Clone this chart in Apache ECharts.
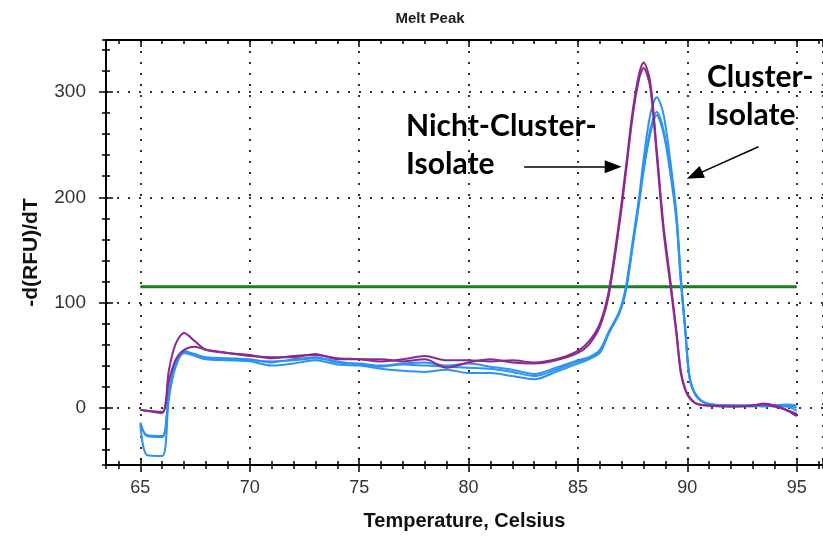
<!DOCTYPE html>
<html>
<head>
<meta charset="utf-8">
<script src="https://cdn.jsdelivr.net/npm/echarts@6/dist/echarts.min.js"></script>
<style>
html,body{margin:0;padding:0;background:#fff;}
#chart{width:823px;height:536px;}
</style>
</head>
<body>
<div id="chart"></div>
<script>
// Temperatures (°C) at which the curves are sampled
const temps = [65, 65.3, 66, 66.3, 66.6, 67, 67.5, 68, 69, 70, 71, 72, 73, 74, 75, 76, 77, 78, 79, 80, 81, 82, 83, 84, 85, 85.5, 86, 86.4, 86.9, 87.2, 87.5, 87.8, 88.0, 88.3, 88.6, 88.9, 89.2, 89.5, 89.7, 89.9, 90.1, 90.4, 90.9, 92, 93, 93.5, 94, 94.5, 95];

// Nicht-Cluster-Isolate (purple)
const nichtCluster1 = [-2, -3, -5, 35, 60, 71, 63, 55, 52, 50, 47, 49, 50, 47, 46, 44, 46, 49, 45, 45, 44, 45, 43, 46, 54, 63, 80, 110, 180, 230, 282, 318, 328, 310, 245, 175, 125, 73, 35, 18, 10, 4, 2, 1, 2, 4, 2, -2, -8];
const nichtCluster2 = [-2, -3, -4, 25, 45, 55, 58, 55, 52, 49, 48, 48, 51, 46, 46, 46, 44, 46, 38, 43, 46, 43, 42, 45, 52, 60, 77, 106, 175, 225, 277, 313, 323, 305, 240, 170, 120, 70, 33, 17, 9, 4, 2, 1, 2, 3, 1, -2, -6];

// Cluster-Isolate (blue)
const cluster1 = [-14, -27, -28, 15, 42, 54, 50, 48, 47, 46, 43, 46, 48, 43, 42, 40, 42, 43, 40, 42, 39, 36, 32, 38, 45, 48, 55, 72, 92, 116, 158, 201, 236, 278, 295, 280, 238, 185, 125, 77, 30, 12, 4, 2, 2, 1, 2, 2, 0];
const cluster2 = [-16, -45, -46, 8, 38, 52, 49, 46, 45, 44, 40, 42, 45, 41, 40, 37, 35, 34, 36, 33, 33, 30, 27, 34, 42, 46, 52, 70, 90, 112, 153, 195, 225, 260, 278, 262, 226, 178, 120, 74, 28, 11, 4, 2, 2, 2, 1, 1, -3];
const cluster3 = [-15, -26, -27, 12, 40, 53, 51, 47, 46, 45, 44, 45, 47, 44, 41, 39, 41, 40, 39, 38, 37, 34, 30, 36, 44, 47, 54, 71, 91, 113, 155, 197, 228, 264, 281, 265, 229, 180, 122, 75, 29, 12, 4, 2, 1, 2, 2, 3, 2];

// Threshold line
const thresholdTemps = [65, 95];
const thresholdValue = 115;

// Annotation arrows (data coordinates)
const arrowNicht = [[82.54, 229], [86.61, 229]];
const arrowCluster = [[93.25, 248], [90.33, 220.8]];

const xMin = 63.43, xMax = 96.2;
const yMin = -54.5, yMax = 349.5;

const PURPLE = '#8b2a8e';
const BLUE = '#2b93f2';
const GREEN = '#1b7d1b';

function pairs(xs, ys) { return xs.map((x, i) => [x, ys[i]]); }

const dotted = { show: true, lineStyle: { color: '#333', width: 2, type: [2, 9] } };

function xAx(opts) {
  return Object.assign({
    type: 'value', min: xMin, max: xMax, position: 'bottom',
    axisLine: { show: false, onZero: false }, axisLabel: { show: false }, splitLine: { show: false },
    axisTick: { show: false }
  }, opts);
}
function yAx(opts) {
  return Object.assign({
    type: 'value', min: yMin, max: yMax, position: 'left',
    axisLine: { show: false, onZero: false }, axisLabel: { show: false }, splitLine: { show: false },
    axisTick: { show: false }
  }, opts);
}

const tickStyle = { color: '#000', width: 1.5 };

const option = {
  animation: false,
  backgroundColor: '#fff',
  title: {
    text: 'Melt Peak', left: 425, top: 6, textAlign: 'center',
    textStyle: { fontFamily: 'Liberation Sans', fontWeight: 'bold', fontSize: 15, color: '#222' }
  },
  grid: { left: 106, top: 40, right: 0, bottom: 70 },
  xAxis: [
    xAx({
      splitNumber: 6,
      axisLine: { show: true, onZero: false, lineStyle: { color: '#000', width: 2 } },
      axisTick: { show: true, length: 7, lineStyle: tickStyle },
      axisLabel: { show: true, fontSize: 18, color: '#333', margin: 14, fontFamily: 'Liberation Sans', showMinLabel: false, showMaxLabel: false },
      splitLine: dotted,
      name: 'Temperature, Celsius', nameLocation: 'middle', nameGap: 46,
      nameTextStyle: { fontFamily: 'Liberation Sans', fontWeight: 'bold', fontSize: 20, color: '#111' }
    }),
    xAx({ splitNumber: 6, axisTick: { show: true, inside: true, length: 7, lineStyle: tickStyle } }),
    xAx({ splitNumber: 33, axisTick: { show: true, length: 4, lineStyle: tickStyle } }),
    xAx({ splitNumber: 33, axisTick: { show: true, inside: true, length: 4, lineStyle: tickStyle } }),
    xAx({ position: 'top', splitNumber: 33,
      axisLine: { show: true, onZero: false, lineStyle: { color: '#000', width: 2 } },
      axisTick: { show: true, inside: true, length: 4, lineStyle: tickStyle } }),
    xAx({ position: 'top', splitNumber: 6, axisTick: { show: true, inside: true, length: 7, lineStyle: tickStyle } })
  ],
  yAxis: [
    yAx({
      splitNumber: 5,
      axisLine: { show: true, onZero: false, lineStyle: { color: '#000', width: 2 } },
      axisTick: { show: true, length: 7, lineStyle: tickStyle },
      axisLabel: { show: true, fontSize: 19, color: '#333', margin: 20, fontFamily: 'Liberation Sans', showMinLabel: false, showMaxLabel: false },
      splitLine: dotted,
      name: '-d(RFU)/dT', nameLocation: 'middle', nameGap: 64,
      nameTextStyle: { fontFamily: 'Liberation Sans', fontWeight: 'bold', fontSize: 21, color: '#111' }
    }),
    yAx({ splitNumber: 5, axisTick: { show: true, inside: true, length: 7, lineStyle: tickStyle } }),
    yAx({ splitNumber: 20, axisTick: { show: true, length: 4, lineStyle: tickStyle } }),
    yAx({ splitNumber: 20, axisTick: { show: true, inside: true, length: 4, lineStyle: tickStyle } })
  ],
  series: [
    {
      name: 'Threshold', type: 'line', data: thresholdTemps.map(t => [t, thresholdValue]),
      symbol: 'none', lineStyle: { color: GREEN, width: 3 }, z: 3, silent: true,
      markLine: {
        silent: true, symbol: ['none', 'triangle'], symbolSize: [13, 17],
        label: { show: false },
        lineStyle: { color: '#000', width: 1.5, type: 'solid' },
        data: [
          [{ coord: arrowNicht[0] }, { coord: arrowNicht[1] }],
          [{ coord: arrowCluster[0] }, { coord: arrowCluster[1] }]
        ]
      }
    },
    { name: 'Cluster 1', type: 'line', data: pairs(temps, cluster1), symbol: 'none', smooth: 0.3, lineStyle: { color: BLUE, width: 2 }, z: 4 },
    { name: 'Cluster 2', type: 'line', data: pairs(temps, cluster2), symbol: 'none', smooth: 0.3, lineStyle: { color: BLUE, width: 2 }, z: 4 },
    { name: 'Cluster 3', type: 'line', data: pairs(temps, cluster3), symbol: 'none', smooth: 0.3, lineStyle: { color: BLUE, width: 2 }, z: 4 },
    { name: 'Nicht-Cluster 1', type: 'line', data: pairs(temps, nichtCluster1), symbol: 'none', smooth: 0.3, lineStyle: { color: PURPLE, width: 2 }, z: 5 },
    { name: 'Nicht-Cluster 2', type: 'line', data: pairs(temps, nichtCluster2), symbol: 'none', smooth: 0.3, lineStyle: { color: PURPLE, width: 2 }, z: 5 }
  ],
  graphic: [
    { type: 'text', left: 406, top: 107, z: 10,
      style: { text: 'Nicht-Cluster-\nIsolate', font: 'bold 30px Lato', fill: '#000', lineHeight: 38 } },
    { type: 'text', left: 707, top: 58, z: 10,
      style: { text: 'Cluster-\nIsolate', font: 'bold 30px Lato', fill: '#000', lineHeight: 38 } }
  ]
};

const chart = echarts.init(document.getElementById('chart'), null, { renderer: 'canvas' });
chart.setOption(option);
</script>
</body>
</html>
